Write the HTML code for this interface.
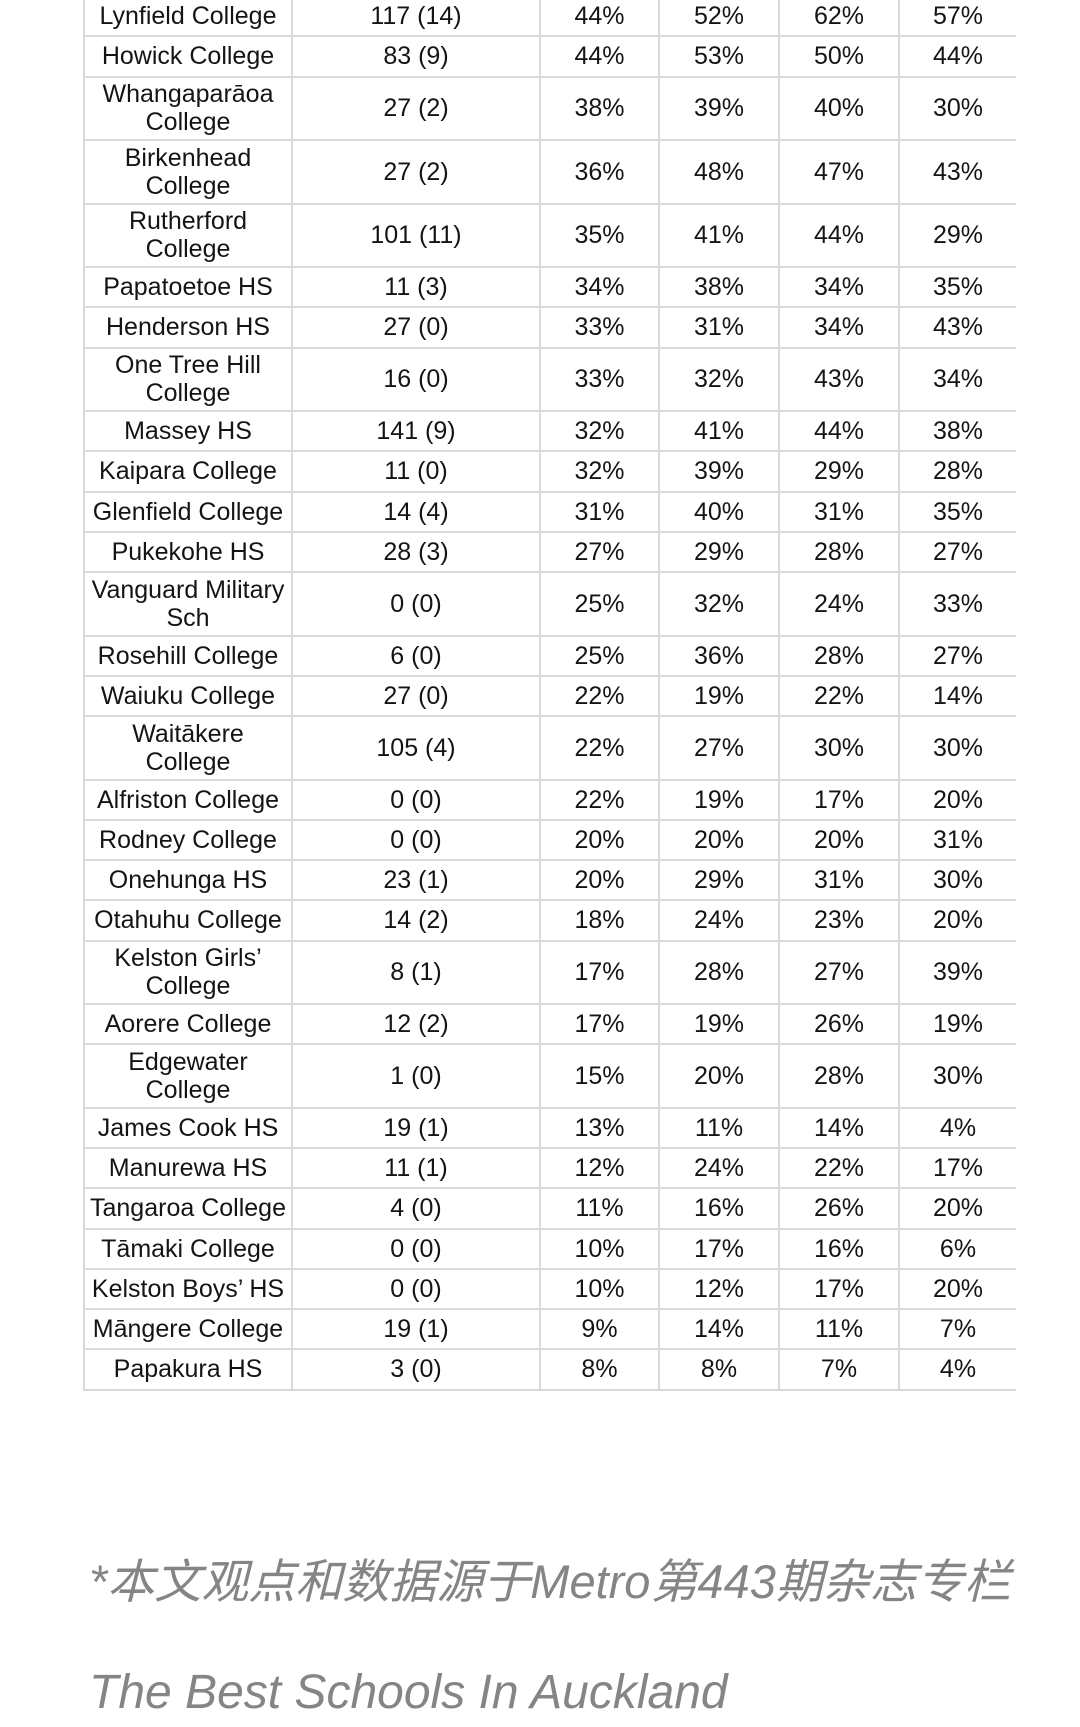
<!DOCTYPE html>
<html><head><meta charset="utf-8"><style>
body{margin:0;width:1080px;height:1727px;background:#fff;position:relative;overflow:hidden;font-family:"Liberation Sans",Arial,sans-serif;}
.r{position:absolute;left:83px;width:933px;border-bottom:2px solid #d9d9d9;box-sizing:border-box;}
.c{position:absolute;top:0;bottom:0;display:flex;align-items:center;justify-content:center;text-align:center;font-size:25px;line-height:28px;color:#141414;border-left:2px solid #d9d9d9;box-sizing:border-box;}
.f{position:absolute;left:89px;color:#858585;font-style:italic;font-family:"Liberation Sans","Noto Sans CJK SC",sans-serif;white-space:nowrap;}
</style></head><body>
<div id="t"></div>
<div class="f" style="top:1554px;font-size:47px;line-height:56px;">*本文观点和数据源于Metro第443期杂志专栏</div>
<div class="f" style="top:1665px;font-size:48px;line-height:56px;">The Best Schools In Auckland</div>
<script>
var rows=[
["Lynfield College","117 (14)","44%","52%","62%","57%"],
["Howick College","83 (9)","44%","53%","50%","44%"],
["Whangaparāoa<br>College","27 (2)","38%","39%","40%","30%"],
["Birkenhead<br>College","27 (2)","36%","48%","47%","43%"],
["Rutherford<br>College","101 (11)","35%","41%","44%","29%"],
["Papatoetoe HS","11 (3)","34%","38%","34%","35%"],
["Henderson HS","27 (0)","33%","31%","34%","43%"],
["One Tree Hill<br>College","16 (0)","33%","32%","43%","34%"],
["Massey HS","141 (9)","32%","41%","44%","38%"],
["Kaipara College","11 (0)","32%","39%","29%","28%"],
["Glenfield College","14 (4)","31%","40%","31%","35%"],
["Pukekohe HS","28 (3)","27%","29%","28%","27%"],
["Vanguard Military<br>Sch","0 (0)","25%","32%","24%","33%"],
["Rosehill College","6 (0)","25%","36%","28%","27%"],
["Waiuku College","27 (0)","22%","19%","22%","14%"],
["Waitākere<br>College","105 (4)","22%","27%","30%","30%"],
["Alfriston College","0 (0)","22%","19%","17%","20%"],
["Rodney College","0 (0)","20%","20%","20%","31%"],
["Onehunga HS","23 (1)","20%","29%","31%","30%"],
["Otahuhu College","14 (2)","18%","24%","23%","20%"],
["Kelston Girls’<br>College","8 (1)","17%","28%","27%","39%"],
["Aorere College","12 (2)","17%","19%","26%","19%"],
["Edgewater<br>College","1 (0)","15%","20%","28%","30%"],
["James Cook HS","19 (1)","13%","11%","14%","4%"],
["Manurewa HS","11 (1)","12%","24%","22%","17%"],
["Tangaroa College","4 (0)","11%","16%","26%","20%"],
["Tāmaki College","0 (0)","10%","17%","16%","6%"],
["Kelston Boys’ HS","0 (0)","10%","12%","17%","20%"],
["Māngere College","19 (1)","9%","14%","11%","7%"],
["Papakura HS","3 (0)","8%","8%","7%","4%"]];
var cols=[83,291,539,658,778,898,1016];
var y=-3,h="";
rows.forEach(function(r){
 var d=r[0].indexOf("<br>")>=0, hh=d?63.5:40.25;
 h+='<div class="r" style="top:'+y+'px;height:'+hh+'px">';
 for(var i=0;i<6;i++){
  h+='<div class="c" style="left:'+(cols[i]-83)+'px;width:'+(cols[i+1]-cols[i])+'px;">'+r[i]+'</div>';
 }
 h+='</div>';
 y+=hh;
});
document.getElementById("t").innerHTML=h;
</script>
</body></html>
